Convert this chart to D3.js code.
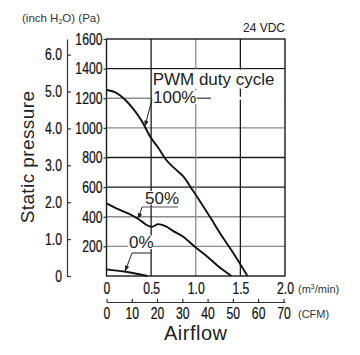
<!DOCTYPE html>
<html><head><meta charset="utf-8">
<script src="https://cdn.jsdelivr.net/npm/d3@7"></script>
<style>body{margin:0;background:#fff}svg{display:block}</style>
</head><body>
<script>
// ---- data ----
const flow100 = [0, 0.10, 0.20, 0.30, 0.40, 0.49, 0.58, 0.67, 0.76, 0.86, 0.97, 1.16, 1.30, 1.42, 1.58];
const pa100   = [1256, 1240, 1195, 1128, 1042, 940, 866, 783, 728, 672, 575, 398, 263, 155, 0];
const flow50  = [0, 0.15, 0.30, 0.41, 0.45, 0.51, 0.58, 0.66, 0.75, 0.86, 0.98, 1.13, 1.28, 1.40];
const pa50    = [491, 446, 405, 362, 344, 332, 350, 336, 303, 265, 202, 130, 52, 0];
const flow0   = [0, 0.20, 0.46];
const pa0     = [45, 30, 0];
const paTicks   = [200, 400, 600, 800, 1000, 1200, 1400, 1600];
const inchTicks = [0, 1, 2, 3, 4, 5, 6];
const m3Ticks   = [0, 0.5, 1.0, 1.5, 2.0];
const cfmTicks  = [0, 10, 20, 30, 40, 50, 60, 70];
const seriesNames = ["100%", "50%", "0%"];

// ---- setup ----
const W = 360, H = 355;
const SANS = "'Liberation Sans',Arial,Helvetica,sans-serif";
const DARK = "#1a1a1a", GRAY = "#8c8c8c";
const SQ = 0.74; // horizontal squeeze for condensed tick labels
const svg = d3.select("body").append("svg").attr("width", W).attr("height", H)
  .style("font-family", SANS);

const x = d3.scaleLinear([0, 2], [106.5, 285]);
const y = d3.scaleLinear([0, 1600], [276, 39]);
const PA_PER_INCH = 249.089;
const yIn = d3.scaleLinear([0, 1600 / PA_PER_INCH], [276, 39]);
const CFM_PER_M3 = 35.3147;
const xCfm = d3.scaleLinear([0, 2 * CFM_PER_M3], [106.5, 285]);

const series = [
  {name: seriesNames[0], pts: flow100.map((f, i) => [f, pa100[i]])},
  {name: seriesNames[1], pts: flow50.map((f, i) => [f, pa50[i]])},
  {name: seriesNames[2], pts: flow0.map((f, i) => [f, pa0[i]])}
];
function paAt(pts, f) {
  for (let i = 1; i < pts.length; i++) {
    if (f <= pts[i][0]) {
      const t = (f - pts[i-1][0]) / (pts[i][0] - pts[i-1][0]);
      return pts[i-1][1] + t * (pts[i][1] - pts[i-1][1]);
    }
  }
  return pts[pts.length-1][1];
}

// ---- grid ----
const grayPa = new Set([200, 400, 1000, 1200]);
const grayFlow = new Set([1.0]);
const g = svg.append("g");
g.selectAll("line.h").data(paTicks.filter(d => d < 1600)).join("line")
  .attr("x1", x(0)).attr("x2", x(2)).attr("y1", d => y(d)).attr("y2", d => y(d))
  .attr("stroke", d => grayPa.has(d) ? GRAY : DARK).attr("stroke-width", 1.3);
g.selectAll("line.v").data(m3Ticks.filter(d => d > 0 && d < 2)).join("line")
  .attr("x1", d => x(d)).attr("x2", d => x(d)).attr("y1", y(0)).attr("y2", y(1600))
  .attr("stroke", d => grayFlow.has(d) ? GRAY : DARK).attr("stroke-width", 1.3);

// ---- curves ----
const line = d3.line().x(d => x(d[0])).y(d => y(d[1])).curve(d3.curveMonotoneX);
svg.selectAll("path.curve").data(series).join("path").attr("class", "curve")
  .attr("d", d => line(d.pts)).attr("fill", "none").attr("stroke", "#111")
  .attr("stroke-width", 1.9).attr("stroke-linejoin", "round");

// ---- frame ----
svg.append("rect").attr("x", x(0)).attr("y", y(1600)).attr("width", x(2) - x(0))
  .attr("height", y(0) - y(1600)).attr("fill", "none").attr("stroke", DARK).attr("stroke-width", 1.4);

// ---- labels on the chart ----
function arrow(x1, y1, f, pts) {
  const tx = x(f), ty = y(paAt(pts, f));
  const a = Math.atan2(ty - y1, tx - x1);
  svg.append("line").attr("x1", x1).attr("y1", y1).attr("x2", tx - 4 * Math.cos(a)).attr("y2", ty - 4 * Math.sin(a))
    .attr("stroke", "#222").attr("stroke-width", 1);
  const L = 6, Wd = 2.2;
  const p = [[tx, ty],
    [tx - L * Math.cos(a) + Wd * Math.sin(a), ty - L * Math.sin(a) - Wd * Math.cos(a)],
    [tx - L * Math.cos(a) - Wd * Math.sin(a), ty - L * Math.sin(a) + Wd * Math.cos(a)]];
  svg.append("polygon").attr("points", p.map(q => q.join(",")).join(" ")).attr("fill", "#222");
}
function boxText(txt, tx, ty, size, w) {
  svg.append("rect").attr("x", tx - 1).attr("y", ty - size * 0.74).attr("width", w).attr("height", size * 0.8).attr("fill", "#fff");
  svg.append("text").attr("x", tx).attr("y", ty).attr("font-size", size).attr("fill", "#222").text(txt);
}
// PWM duty cycle box
svg.append("rect").attr("x", x(0.5) + 1).attr("y", y(1400) + 1).attr("width", x(2) - x(0.5) - 2)
  .attr("height", 19).attr("fill", "#fff");
svg.append("rect").attr("x", 211).attr("y", y(1200) - 1.5).attr("width", x(2) - 212).attr("height", 3).attr("fill", "#fff");
svg.append("text").attr("x", x(0.5) + 1.5).attr("y", 85).attr("font-size", 17).attr("fill", "#222").text("PWM duty cycle");
// 100%
svg.append("line").attr("x1", x(0.5)).attr("x2", 211).attr("y1", y(1200)).attr("y2", y(1200)).attr("stroke", "#555").attr("stroke-width", 1.1);
boxText(series[0].name, 153, 103, 17, 45);
arrow(152, y(1200) + 1, 0.43, series[0].pts);
// 50%
svg.append("line").attr("x1", 142).attr("x2", 178).attr("y1", 207).attr("y2", 207).attr("stroke", "#555").attr("stroke-width", 1.1);
boxText(series[1].name, 145, 203.5, 17, 34);
arrow(142, 207, 0.355, series[1].pts);
// 0%
boxText(series[2].name, 129, 248, 17, 25);
svg.append("line").attr("x1", 132).attr("x2", x(0.5)).attr("y1", 253).attr("y2", 253).attr("stroke", "#333").attr("stroke-width", 1.1);
arrow(132, 253, 0.207, series[2].pts);

// ---- axes ----
const paAxis = svg.append("g").attr("transform", `translate(${x(0)},0)`)
  .call(d3.axisLeft(y).tickValues(paTicks).tickSize(3).tickPadding(1).tickFormat(d3.format("d")));
paAxis.select(".domain").remove();
const inAxis = svg.append("g").attr("transform", "translate(67,0)")
  .call(d3.axisLeft(yIn).tickValues(inchTicks).tickSizeInner(-4).tickSizeOuter(0).tickPadding(5)
    .tickFormat(d => d === 0 ? "0" : d3.format(".1f")(d)));
const m3Axis = svg.append("g").attr("transform", `translate(0,${y(0)})`)
  .call(d3.axisBottom(x).tickValues(m3Ticks).tickSize(0).tickPadding(6).tickFormat(d => d === 0 ? "0" : d3.format(".1f")(d)));
m3Axis.select(".domain").remove();
const cfmAxis = svg.append("g").attr("transform", "translate(0,302)")
  .call(d3.axisBottom(xCfm).tickValues(cfmTicks).tickSizeInner(-3).tickSizeOuter(0).tickPadding(5));
[paAxis, inAxis, m3Axis, cfmAxis].forEach(a => {
  a.selectAll("text").attr("font-family", SANS).attr("font-size", 16.5).attr("fill", "#111")
    .attr("stroke", "#111").attr("stroke-width", 0.25)
    .each(function() {
      const xx = +this.getAttribute("x") || 0;
      this.setAttribute("x", xx / SQ);
      this.setAttribute("transform", `scale(${SQ},1)`);
    });
  a.selectAll("line,path").attr("stroke", "#333").attr("stroke-width", 1.2);
});

// ---- titles / units ----
svg.append("text").attr("transform", "translate(34,157) rotate(-90)").attr("text-anchor", "middle")
  .attr("font-size", 19).attr("letter-spacing", 0.4).attr("fill", "#222").text("Static pressure");
svg.append("text").attr("x", (x(0) + x(2)) / 2).attr("y", 340).attr("text-anchor", "middle")
  .attr("font-size", 20).attr("letter-spacing", 0.5).attr("fill", "#222").text("Airflow");
const unitTop = svg.append("text").attr("x", 22).attr("y", 22).attr("font-size", 11.5).attr("fill", "#333");
unitTop.append("tspan").text("(inch H");
unitTop.append("tspan").attr("font-size", 7).attr("dy", 2).text("2");
unitTop.append("tspan").attr("dy", -2).text("O)  (Pa)");
svg.append("text").attr("x", x(2)).attr("y", 32).attr("text-anchor", "end").attr("font-size", 12).attr("fill", "#222").text("24 VDC");
const u1 = svg.append("text").attr("x", 298).attr("y", 293).attr("font-size", 11).attr("fill", "#333");
u1.append("tspan").text("(m");
u1.append("tspan").attr("font-size", 7).attr("dy", -4).text("3");
u1.append("tspan").attr("dy", 4).text("/min)");
svg.append("text").attr("x", 298).attr("y", 318).attr("font-size", 11).attr("fill", "#333").text("(CFM)");
</script>
</body></html>
